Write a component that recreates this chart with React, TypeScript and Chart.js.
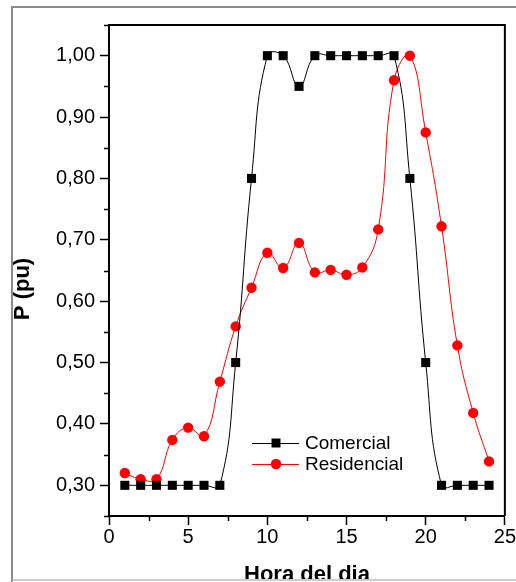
import React, { useEffect, useRef } from "react";
import { Chart, registerables } from "chart.js";

Chart.register(...registerables);

const hours = [1, 2, 3, 4, 5, 6, 7, 8, 9, 10, 11, 12, 13, 14, 15, 16, 17, 18, 19, 20, 21, 22, 23, 24];
const comercial = [0.3, 0.3, 0.3, 0.3, 0.3, 0.3, 0.3, 0.5, 0.8, 1.0, 1.0, 0.95, 1.0, 1.0, 1.0, 1.0, 1.0, 1.0, 0.8, 0.5, 0.3, 0.3, 0.3, 0.3];
const residencial = [0.32, 0.31, 0.31, 0.374, 0.394, 0.38, 0.469, 0.559, 0.622, 0.679, 0.654, 0.695, 0.647, 0.651, 0.643, 0.655, 0.717, 0.96, 1.0, 0.875, 0.722, 0.528, 0.418, 0.339];
const seriesNames = ["Comercial", "Residencial"];
const yTickValues = [0.3, 0.4, 0.5, 0.6, 0.7, 0.8, 0.9, 1.0];
const yMinorValues = [0.25, 0.35, 0.45, 0.55, 0.65, 0.75, 0.85, 0.95, 1.05];
const xTickValues = [0, 5, 10, 15, 20, 25];
const xMinorValues = [2.5, 7.5, 12.5, 17.5, 22.5];
const xTitle = "Hora del dia";
const yTitle = "P (pu)";

const FONT = "'Liberation Sans', Arial, sans-serif";

const decorPlugin = {
  id: "decor",
  beforeDraw(chart: any) {
    const ctx = chart.ctx;
    ctx.save();
    ctx.fillStyle = "#fff";
    ctx.fillRect(0, 0, chart.width, chart.height);
    ctx.restore();
  },
  afterDraw(chart: any) {
    const ctx = chart.ctx;
    const { left, right, top, bottom } = chart.chartArea;
    const xs = chart.scales.x;
    const ys = chart.scales.y;
    ctx.save();
    // top & right border
    ctx.strokeStyle = "#000";
    ctx.lineWidth = 2;
    ctx.beginPath();
    ctx.moveTo(left, top);
    ctx.lineTo(right, top);
    ctx.lineTo(right, bottom);
    ctx.stroke();
    // minor ticks
    ctx.lineWidth = 1.5;
    ctx.beginPath();
    for (const v of yMinorValues) {
      const y = Math.round(ys.getPixelForValue(v)) + 0.5;
      ctx.moveTo(left - 5, y);
      ctx.lineTo(left, y);
    }
    for (const v of xMinorValues) {
      const x = Math.round(xs.getPixelForValue(v)) + 0.5;
      ctx.moveTo(x, bottom);
      ctx.lineTo(x, bottom + 5);
    }
    ctx.stroke();

    // legend
    const legendItems = [
      { name: seriesNames[0], color: "#000", style: "rect", y: 443 },
      { name: seriesNames[1], color: "#ff0000", style: "circle", y: 464 },
    ];
    ctx.font = `19px ${FONT}`;
    ctx.textBaseline = "middle";
    ctx.textAlign = "left";
    for (const it of legendItems) {
      ctx.strokeStyle = it.color;
      ctx.fillStyle = it.color;
      ctx.lineWidth = 1;
      ctx.beginPath();
      ctx.moveTo(252, it.y + 0.5);
      ctx.lineTo(299, it.y + 0.5);
      ctx.stroke();
      if (it.style === "rect") {
        ctx.fillRect(276 - 4.5, it.y - 4.5, 9, 9);
      } else {
        ctx.beginPath();
        ctx.arc(276, it.y, 5.2, 0, Math.PI * 2);
        ctx.fill();
      }
      ctx.fillStyle = "#000";
      ctx.fillText(it.name, 305, it.y + 1);
    }

    // frame
    ctx.strokeStyle = "#8a8a8a";
    ctx.lineWidth = 2;
    ctx.beginPath();
    ctx.moveTo(12, 582);
    ctx.lineTo(12, 7);
    ctx.lineTo(516, 7);
    ctx.stroke();

    // axis titles (clipped by frame bottom)
    ctx.save();
    ctx.beginPath();
    ctx.rect(0, 0, 516, 579);
    ctx.clip();
    ctx.fillStyle = "#000";
    ctx.font = `bold 22px ${FONT}`;
    ctx.textAlign = "center";
    ctx.textBaseline = "alphabetic";
    ctx.fillText(xTitle, 307, 581);
    ctx.restore();

    ctx.save();
    ctx.beginPath();
    ctx.rect(13, 0, 516, 582);
    ctx.clip();
    ctx.translate(23, 289);
    ctx.rotate(-Math.PI / 2);
    ctx.fillStyle = "#000";
    ctx.font = `bold 22px ${FONT}`;
    ctx.textAlign = "center";
    ctx.textBaseline = "middle";
    ctx.fillText(yTitle, 0, 0);
    ctx.restore();

    // bottom frame line
    ctx.strokeStyle = "#bdbdbd";
    ctx.lineWidth = 1.5;
    ctx.beginPath();
    ctx.moveTo(12, 580);
    ctx.lineTo(516, 580);
    ctx.stroke();
    ctx.restore();
  },
};

export default function App() {
  const ref = useRef<HTMLCanvasElement | null>(null);
  useEffect(() => {
    if (!ref.current) return;
    const chart = new Chart(ref.current, {
      type: "line",
      data: {
        datasets: [
          {
            label: seriesNames[0],
            data: hours.map((h, i) => ({ x: h, y: comercial[i] })),
            borderColor: "#000",
            backgroundColor: "#000",
            borderWidth: 1,
            pointStyle: "rect",
            pointRadius: 6.4,
            pointBorderWidth: 0,
            tension: 0.45,
          },
          {
            label: seriesNames[1],
            data: hours.map((h, i) => ({ x: h, y: residencial[i] })),
            borderColor: "#ff0000",
            backgroundColor: "#ff0000",
            borderWidth: 1,
            pointStyle: "circle",
            pointRadius: 5.2,
            pointBorderWidth: 0,
            tension: 0.45,
          },
        ],
      },
      options: {
        animation: false,
        responsive: false,
        devicePixelRatio: 1,
        layout: { padding: { left: 0, right: 9, top: 25, bottom: 0 } },
        plugins: { legend: { display: false }, tooltip: { enabled: false } },
        scales: {
          x: {
            type: "linear",
            min: 0,
            max: 25,
            afterBuildTicks: (scale: any) => {
              scale.ticks = xTickValues.map((v) => ({ value: v }));
            },
            afterFit: (scale: any) => {
              scale.height = 66;
            },
            ticks: {
              color: "#000",
              font: { family: FONT, size: 20 },
              padding: 0,
              maxRotation: 0,
              callback: (v: any) => String(v),
            },
            grid: { drawOnChartArea: false, tickLength: 9, tickColor: "#000", tickWidth: 1.5 },
            border: { display: true, color: "#000", width: 2 },
          },
          y: {
            type: "linear",
            min: 0.25,
            max: 1.05,
            afterBuildTicks: (scale: any) => {
              scale.ticks = yTickValues.map((v) => ({ value: v }));
            },
            afterFit: (scale: any) => {
              scale.width = 109;
            },
            ticks: {
              color: "#000",
              font: { family: FONT, size: 20 },
              padding: 5,
              callback: (v: any) => Number(v).toFixed(2).replace(".", ","),
            },
            grid: { drawOnChartArea: false, tickLength: 9, tickColor: "#000", tickWidth: 1.5 },
            border: { display: true, color: "#000", width: 2 },
          },
        },
      },
      plugins: [decorPlugin],
    });
    return () => chart.destroy();
  }, []);
  return (
    <div style={{ position: "fixed", left: 0, top: 0, width: 516, height: 582 }}>
      <canvas ref={ref} width={516} height={582} style={{ display: "block" }} />
    </div>
  );
}
